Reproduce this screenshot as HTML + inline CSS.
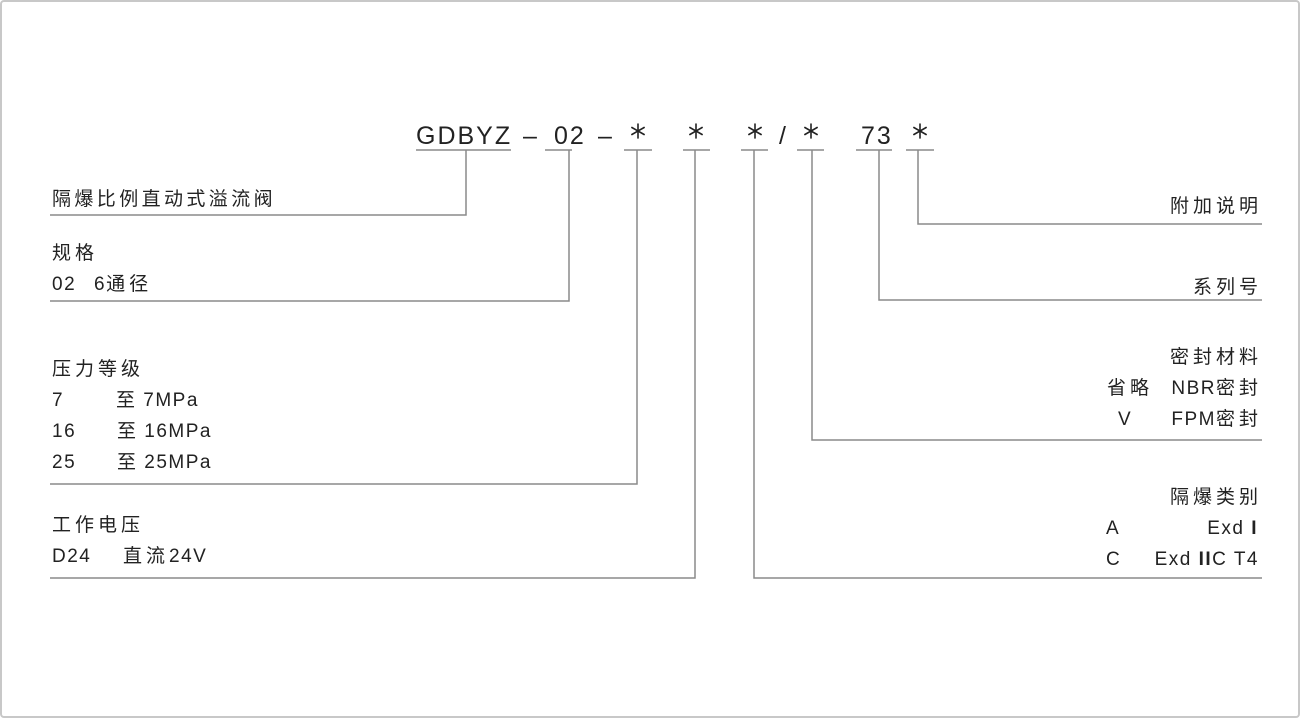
<!DOCTYPE html>
<html><head><meta charset="utf-8"><style>
html,body{margin:0;padding:0;background:#fff}
svg{display:block}
text{font-family:"Liberation Sans","Noto Sans CJK SC",sans-serif;fill:#222;font-size:19px;letter-spacing:1.5px}
.c{letter-spacing:4px}
.t{letter-spacing:3.4px}
.h{font-size:25px;letter-spacing:2px}
</style></head><body>
<svg width="1300" height="718" viewBox="0 0 1300 718">
<defs>
<g id="ast" stroke="#222" stroke-width="1.6" stroke-linecap="round">
<line x1="0" y1="-7" x2="0" y2="7"/>
<line x1="-6.1" y1="-3.5" x2="6.1" y2="3.5"/>
<line x1="-6.1" y1="3.5" x2="6.1" y2="-3.5"/>
</g>
</defs>
<rect x="1" y="1" width="1298" height="716" fill="#fff" stroke="#c8c8c8" stroke-width="2" rx="3"/>
<text class="h" x="416" y="144">GDBYZ</text>
<text class="h" x="523" y="144">–</text>
<text class="h" x="554" y="144">02</text>
<text class="h" x="598" y="144">–</text>
<use href="#ast" x="638" y="131"/>
<use href="#ast" x="696" y="131"/>
<use href="#ast" x="755" y="131"/>
<text class="h" x="779" y="144">/</text>
<use href="#ast" x="811" y="131"/>
<text class="h" x="861" y="144">73</text>
<use href="#ast" x="920" y="131"/>
<g stroke="#8a8a8a" stroke-width="1.5" fill="none">
<path d="M416 150H511 M545 150H572 M624 150H652 M683 150H710 M741 150H768 M797 150H824 M856 150H892 M906 150H934"/>
<path d="M466 150V215H50"/>
<path d="M569 150V301H50"/>
<path d="M637 150V484H50"/>
<path d="M695 150V578H50"/>
<path d="M754 150V578H1262"/>
<path d="M812 150V440H1262"/>
<path d="M879 150V300H1262"/>
<path d="M918 150V224H1262"/>
</g>
<text class="t" x="52" y="205">隔爆比例直动式溢流阀</text>
<text class="c" x="52" y="259">规格</text>
<text x="52" y="290">02</text><text x="94" y="290">6<tspan class="c">通径</tspan></text>
<text class="c" x="52" y="375">压力等级</text>
<text x="52" y="406">7</text><text x="116" y="406">至 7MPa</text>
<text x="52" y="437">16</text><text x="117" y="437">至 16MPa</text>
<text x="52" y="468">25</text><text x="117" y="468">至 25MPa</text>
<text class="c" x="52" y="531">工作电压</text>
<text x="52" y="562">D24</text><text x="123" y="562"><tspan class="c">直流</tspan>24V</text>
<g text-anchor="end">
<text class="c" x="1262" y="212">附加说明</text>
<text class="c" x="1262" y="293">系列号</text>
<text class="c" x="1262" y="363">密封材料</text>
<text x="1262" y="394">NBR<tspan class="c">密封</tspan></text>
<text x="1262" y="425">FPM<tspan class="c">密封</tspan></text>
<text class="c" x="1262" y="503">隔爆类别</text>
<text x="1258" y="534">Exd <tspan font-weight="bold">I</tspan></text>
<text x="1259" y="565">Exd <tspan font-weight="bold">II</tspan>C T4</text>
</g>
<text class="c" x="1107" y="394">省略</text>
<text x="1118" y="425">V</text>
<text x="1106" y="534">A</text>
<text x="1106" y="565">C</text>
</svg>
</body></html>
